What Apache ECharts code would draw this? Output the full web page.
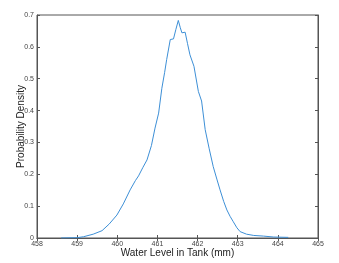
<!DOCTYPE html>
<html><head><meta charset="utf-8">
<script src="https://cdn.jsdelivr.net/npm/echarts@6/dist/echarts.min.js"></script>
<style>html,body{margin:0;padding:0;background:#fff}#c{width:339px;height:263px}</style>
</head><body><div id="c"></div>
<script>
const xLevels = [458.6, 459.0, 459.16, 459.4, 459.62, 459.8, 459.99, 460.15, 460.32, 460.45, 460.53, 460.64, 460.74, 460.85, 460.94, 461.03, 461.11, 461.18, 461.23, 461.32, 461.40, 461.46, 461.52, 461.57, 461.61, 461.69, 461.75, 461.81, 461.91, 462.02, 462.10, 462.19, 462.29, 462.39, 462.48, 462.56, 462.65, 462.73, 462.81, 462.89, 462.98, 463.06, 463.22, 463.4, 463.64, 463.9, 464.26];
const density = [0.0, 0.001, 0.004, 0.012, 0.023, 0.044, 0.072, 0.107, 0.151, 0.18, 0.195, 0.222, 0.245, 0.29, 0.345, 0.392, 0.47, 0.52, 0.56, 0.623, 0.625, 0.655, 0.683, 0.66, 0.644, 0.646, 0.61, 0.575, 0.539, 0.46, 0.43, 0.34, 0.28, 0.224, 0.185, 0.151, 0.115, 0.088, 0.068, 0.051, 0.032, 0.02, 0.012, 0.008, 0.006, 0.003, 0.002];
const xTicks = [458, 459, 460, 461, 462, 463, 464, 465];
const yTicks = [0, 0.1, 0.2, 0.3, 0.4, 0.5, 0.6, 0.7];

const chart = echarts.init(document.getElementById('c'));
const axisCol = '#555';
const lbl = {fontFamily:'Liberation Sans', fontSize:7, color:'#444'};
chart.setOption({
  animation:false,
  grid:{left:37, right:21, top:15, bottom:25, show:true, borderColor:axisCol, borderWidth:1},
  xAxis:[{type:'value', min:458, max:465, interval:1,
    name:'Water Level in Tank (mm)', nameLocation:'middle', nameGap:10, nameMoveOverlap:false,
    nameTextStyle:{fontFamily:'Liberation Sans', fontSize:10, color:'#222'},
    axisLine:{lineStyle:{color:axisCol}}, axisTick:{inside:true, length:3, lineStyle:{color:axisCol}},
    axisLabel:Object.assign({margin:3}, lbl), splitLine:{show:false}},
    {type:'value', position:'top', min:458, max:465, interval:1,
    axisLine:{lineStyle:{color:axisCol}}, axisTick:{inside:true, length:3, lineStyle:{color:axisCol}},
    axisLabel:{show:false}, splitLine:{show:false}}],
  yAxis:[{type:'value', min:0, max:0.7, interval:0.1,
    name:'Probability Density', nameLocation:'middle', nameGap:11, nameMoveOverlap:false,
    nameTextStyle:{fontFamily:'Liberation Sans', fontSize:10, color:'#222'},
    axisLine:{show:true, lineStyle:{color:axisCol}}, axisTick:{show:true, inside:true, length:3, lineStyle:{color:axisCol}},
    axisLabel:Object.assign({margin:3, formatter:v=>String(+v.toFixed(1))}, lbl), splitLine:{show:false}},
    {type:'value', position:'right', min:0, max:0.7, interval:0.1,
    axisLine:{show:true, lineStyle:{color:axisCol}}, axisTick:{show:true, inside:true, length:3, lineStyle:{color:axisCol}},
    axisLabel:{show:false}, splitLine:{show:false}}],
  series:[{type:'line', xAxisIndex:0, yAxisIndex:0, showSymbol:false, symbol:'none',
    lineStyle:{color:'#3d8fd6', width:1},
    data:xLevels.map((x,i)=>[x, density[i]])}]
});
</script></body></html>
